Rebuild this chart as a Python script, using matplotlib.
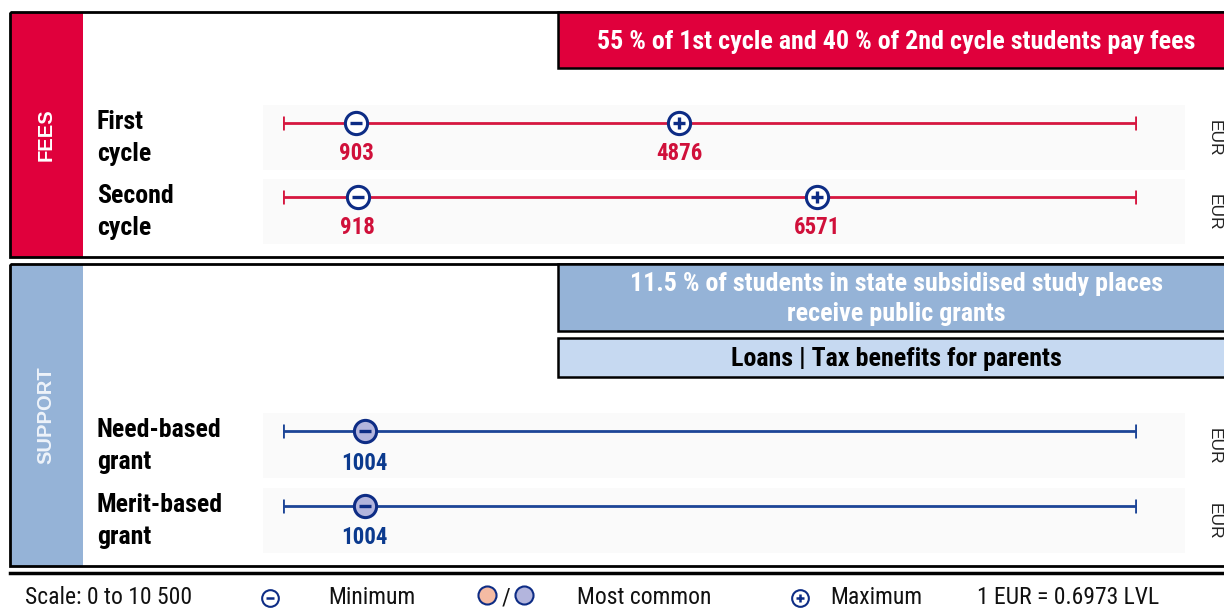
import matplotlib.pyplot as plt
import matplotlib.font_manager as fm
from matplotlib.patches import Rectangle

# Data
scale_min, scale_max = 0, 10500
fee_rows = ['First\ncycle', 'Second\ncycle']
fee_min = [903, 918]
fee_max = [4876, 6571]
grant_rows = ['Need-based\ngrant', 'Merit-based\ngrant']
grant_common = [1004, 1004]
fee_note = '55 % of 1st cycle and 40 % of 2nd cycle students pay fees'
grant_note = '11.5 % of students in state subsidised study places\nreceive public grants'
other_support = 'Loans | Tax benefits for parents'

RED = '#E0003C'
RED_LINE = '#D6173F'
RED_TXT = '#D0103A'
BLUE = '#0D2C85'
BLUE_LINE = '#1C4597'
LBLUE = '#95B3D7'
PALE = '#C6D9F1'
LAV = '#B3B5DD'
PEACH = '#F5BBA3'

# pick a narrow sans that is installed
have = {f.name for f in fm.fontManager.ttflist}
narrow = next((n for n in ['Liberation Sans Narrow', 'Arial Narrow', 'Roboto Condensed',
                           'Archivo Narrow', 'PT Sans Narrow', 'Fira Sans Condensed',
                           'Barlow Semi Condensed', 'Barlow Condensed'] if n in have),
              'DejaVu Sans')
NARROW = [narrow, 'DejaVu Sans']
plt.rcParams['font.family'] = ['Liberation Sans', 'DejaVu Sans']

fig = plt.figure(figsize=(12.24, 6.15), dpi=100)
bg = fig.add_axes([0, 0, 1, 1])
bg.set_xlim(0, 1224)
bg.set_ylim(615, 0)
bg.axis('off')

# frames and side bands
for top, bot, col, name, tcol in [(12, 257, RED, 'FEES', 'white'),
                                  (264, 566, LBLUE, 'SUPPORT', '#EEF3FA')]:
    bg.add_patch(Rectangle((10, top), 73, bot - top, fc=col, ec='none'))
    bg.add_patch(Rectangle((10, top), 1230, bot - top, fc='none', ec='black', lw=2))
    bg.text(46, (top + bot) / 2, name, rotation=90, ha='center', va='center',
            color=tcol, fontsize=14.5, fontweight='bold')

# header boxes
bg.add_patch(Rectangle((558, 12), 680, 56, fc=RED, ec='black', lw=1.8))
bg.text(896, 42, fee_note, ha='center', va='center', color='white',
        fontsize=18.7, fontweight='bold', family=NARROW)
bg.add_patch(Rectangle((558, 264), 680, 67, fc=LBLUE, ec='black', lw=1.8))
bg.text(896, 299, grant_note, ha='center', va='center', color='white',
        fontsize=18.7, fontweight='bold', family=NARROW, linespacing=1.35)
bg.add_patch(Rectangle((558, 338), 680, 39, fc=PALE, ec='black', lw=1.8))
bg.text(896, 359, other_support, ha='center', va='center', color='black',
        fontsize=18.7, fontweight='bold', family=NARROW)

# data axes: value scale mapped onto the line span
ax = fig.add_axes([283 / 1224, 0, 853 / 1224, 1])
ax.set_xlim(scale_min, scale_max)
ax.set_ylim(615, 0)
ax.axis('off')
ax.patch.set_alpha(0)

row_y = [123, 197, 431, 506]


def draw_row(y, label, color):
    bg.add_patch(Rectangle((263, y - 18), 922, 65, fc='#FAFAFA', ec='none', zorder=0))
    bg.text(97, y + 15, label, ha='left', va='center', fontsize=18.6,
            fontweight='bold', family=NARROW, linespacing=1.4)
    ax.plot([scale_min, scale_max], [y, y], color=color, lw=2, zorder=2)
    ax.plot([scale_min, scale_max], [y, y], color=color, ls='none',
            marker='|', markersize=10, mew=2, zorder=2)
    bg.text(1214, y + 15, 'EUR', rotation=-90, ha='center', va='center',
            fontsize=12.5, color='#222222')


def marker(x, y, sym, fill):
    ax.plot([x], [y], marker='o', markersize=16, mfc=fill, mec=BLUE, mew=2.2,
            ls='none', zorder=3)
    ax.plot([x], [y], marker=sym, markersize=8, mec=BLUE, mew=2.4, ls='none', zorder=4)


for i in range(2):
    y = row_y[i]
    draw_row(y, fee_rows[i], RED_LINE)
    marker(fee_min[i], y, '_', 'white')
    marker(fee_max[i], y, '+', 'white')
    for v in (fee_min[i], fee_max[i]):
        ax.text(v, y + 31, str(v), ha='center', va='center', color=RED_TXT,
                fontsize=16.5, fontweight='bold', family=NARROW)

for i in range(2):
    y = row_y[i + 2]
    draw_row(y, grant_rows[i], BLUE_LINE)
    marker(grant_common[i], y, '_', LAV)
    ax.text(grant_common[i], y + 32, str(grant_common[i]), ha='center', va='center',
            color='#0B3A8E', fontsize=16.5, fontweight='bold', family=NARROW)

# legend
bg.plot([10, 1224], [573, 573], color='black', lw=2.5)
ly = 598
kw = dict(va='center', fontsize=17, family=NARROW, color='#111111')
bg.text(25, ly, 'Scale: 0 to 10 500', ha='left', **kw)
bg.plot([270], [ly], marker='o', markersize=12, mfc='white', mec=BLUE, mew=1.5)
bg.plot([270], [ly], marker='_', markersize=6, mec=BLUE, mew=1.8)
bg.text(328, ly, 'Minimum', ha='left', **kw)
bg.plot([487], [ly - 3], marker='o', markersize=13, mfc=PEACH, mec=BLUE, mew=1.5)
bg.text(506, ly, '/', ha='center', **kw)
bg.plot([524], [ly - 3], marker='o', markersize=13, mfc=LAV, mec=BLUE, mew=1.5)
bg.text(577, ly, 'Most common', ha='left', **kw)
bg.plot([800], [ly], marker='o', markersize=12, mfc='white', mec=BLUE, mew=1.5)
bg.plot([800], [ly], marker='+', markersize=6, mec=BLUE, mew=1.8)
bg.text(830, ly, 'Maximum', ha='left', **kw)
bg.text(977, ly, '1 EUR = 0.6973 LVL', ha='left', **kw)

fig.savefig('out.png', dpi=100)
